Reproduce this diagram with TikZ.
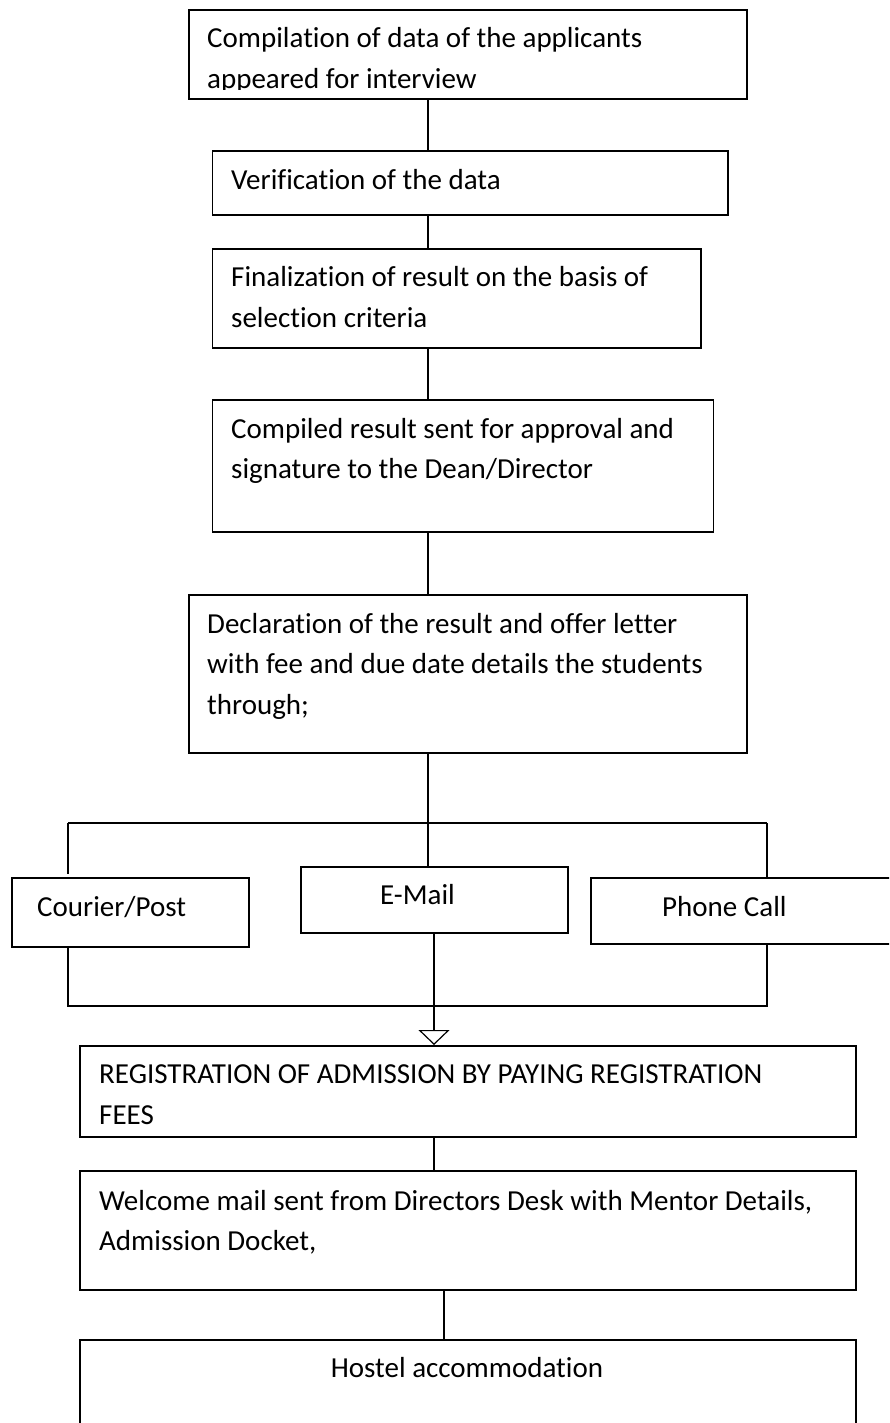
\documentclass[tikz,border=0pt]{standalone}
\usepackage{fontspec}
\setmainfont[Ligatures=NoCommon]{Carlito}
\usetikzlibrary{arrows.meta}
\begin{document}
\begin{tikzpicture}[x=1pt,y=-1pt,
  box/.style={draw=black, line width=1.8pt, rectangle, inner sep=0pt, anchor=north west},
  conn/.style={draw=black, line width=1.2pt},
  txt/.style={inner sep=0pt, anchor=base west, font=\fontsize{29}{40.5}\selectfont},
]
\useasboundingbox (0,0) rectangle (889,1423);
\clip (0,0) rectangle (889,1423);

% boxes
\node[box, minimum width=558pt, minimum height=89pt] (b1) at (188,9) {};
\node[box, minimum width=515.5pt, minimum height=64pt] (b2) at (211.5,150) {};
\node[box, minimum width=488.5pt, minimum height=99pt] (b3) at (211.5,248) {};
\node[box, minimum width=501pt, minimum height=132pt] (b4) at (211.5,399) {};
\node[box, minimum width=558pt, minimum height=158pt] (b5) at (188,594) {};
\node[box, minimum width=237pt, minimum height=69pt] (courier) at (11,877) {};
\node[box, minimum width=267pt, minimum height=66pt] (email) at (300,866) {};
\node[box, minimum width=320pt, minimum height=66pt] (phone) at (590,877) {};
\node[box, minimum width=776pt, minimum height=91pt] (reg) at (79,1045) {};
\node[box, minimum width=776pt, minimum height=119pt] (welcome) at (79,1170) {};
\node[box, minimum width=776pt, minimum height=110pt] (hostel) at (79,1339) {};

% texts
\begin{scope}
\clip (188,9) rectangle (746,89.5);
\node[txt] (t1a) at (207,48) {Compilation of data of the applicants};
\node[txt] (t1b) at (207,88.5) {appeared for interview};
\end{scope}
\node[txt] (t2a) at (231,190) {Verification of the data};
\node[txt] (t3a) at (231,287) {Finalization of result on the basis of};
\node[txt] (t3b) at (231,327.5) {selection criteria};
\node[txt] (t4a) at (231,438) {Compiled result sent for approval and};
\node[txt] (t4b) at (231,478.5) {signature to the Dean/Director};
\node[txt] (t5a) at (207,633) {Declaration of the result and offer letter};
\node[txt] (t5b) at (207,673.5) {with fee and due date details the students};
\node[txt] (t5c) at (207,714) {through;};
\node[txt] (tc) at (37,916) {Courier/Post};
\node[txt] (te) at (380,904) {E-Mail};
\node[txt] (tp) at (662,916) {Phone Call};
\node[txt] (tra) at (99,1083) {REGISTRATION OF ADMISSION BY PAYING REGISTRATION};
\node[txt] (trb) at (99,1124) {FEES};
\node[txt] (twa) at (99,1210) {Welcome mail sent from Directors Desk with Mentor Details,};
\node[txt] (twb) at (99,1250.5) {Admission Docket,};
\node[txt, anchor=base] (th) at (467,1377) {Hostel accommodation};

% connector coordinates
\coordinate (sp) at (428,0);
\coordinate (sp2) at (434,0);
\coordinate (sp3) at (444,0);
\coordinate (jL) at (68,823);
\coordinate (jM) at (428,823);
\coordinate (jR) at (767,823);
\coordinate (bL) at (68,1006);
\coordinate (bR) at (767,1006);

% connectors
\draw[conn] (b1.south -| sp) -- (b2.north -| sp);
\draw[conn] (b2.south -| sp) -- (b3.north -| sp);
\draw[conn] (b3.south -| sp) -- (b4.north -| sp);
\draw[conn] (b4.south -| sp) -- (b5.north -| sp);
\draw[conn] (b5.south -| sp) -- (jM);
\draw[conn] (jL) -- (jR);
\draw[conn, shorten >=3pt] (jL) -- (courier.north -| jL);
\draw[conn] (jM) -- (email.north -| jM);
\draw[conn] (jR) -- (phone.north -| jR);
\draw[conn] (courier.south -| bL) -- (bL) -- (bR) -- (phone.south -| bR);
\draw[conn, -{Triangle[open, length=15pt, width=31pt, line width=1.2pt]}] (email.south -| sp2) -- (reg.north -| sp2);
\draw[conn] (reg.south -| sp2) -- (welcome.north -| sp2);
\draw[conn] (welcome.south -| sp3) -- (hostel.north -| sp3);
\end{tikzpicture}
\end{document}
